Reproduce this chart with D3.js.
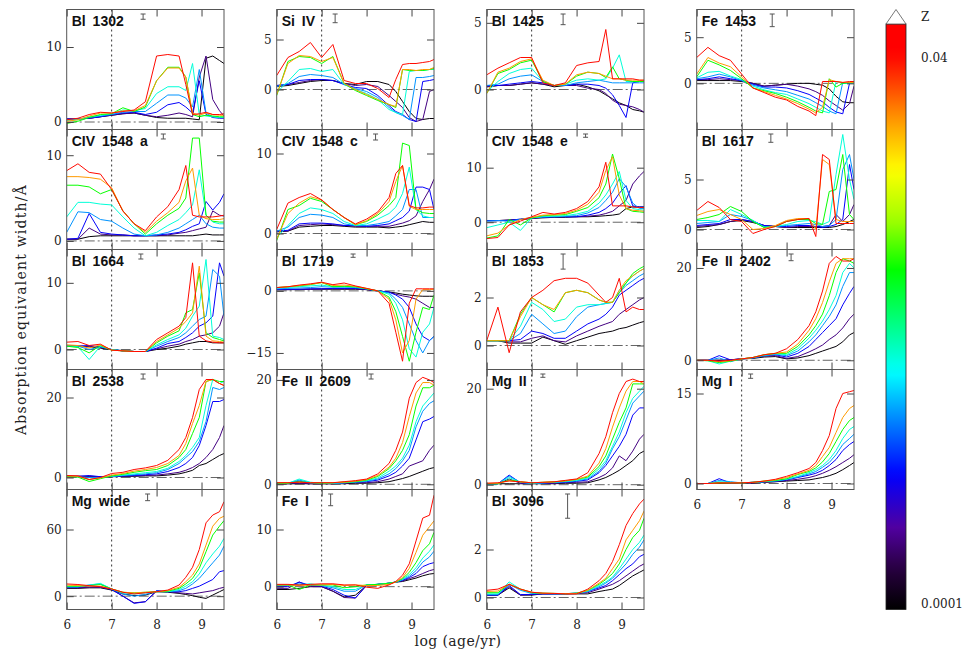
<!DOCTYPE html>
<html lang="en">
<head>
<meta charset="UTF-8">
<title>Absorption equivalent widths vs age</title>
<script src="https://d3js.org/d3.v7.min.js"></script>
<style>
  body { margin: 0; background: #fff; }
  svg { display: block; }
</style>
</head>
<body>
<svg width="972" height="664"></svg>
<script>
// ages (log yr) at which every track is sampled
const logAges = [6.0, 6.25, 6.5, 6.75, 7.0, 7.25, 7.5, 7.75, 8.0, 8.25, 8.5, 8.65, 8.8, 8.95, 9.1, 9.25, 9.4, 9.5];
// metallicity of each track, lowest first
const metallicities = [0.0001, 0.0002, 0.0004, 0.0008, 0.0015, 0.004, 0.02, 0.04];

const indexNames = ["Bl 1302", "Si IV", "Bl 1425", "Fe 1453",
    "CIV 1548 a", "CIV 1548 c", "CIV 1548 e", "Bl 1617",
    "Bl 1664", "Bl 1719", "Bl 1853", "Fe II 2402",
    "Bl 2538", "Fe II 2609", "Mg II", "Mg I",
    "Mg wide", "Fe I", "Bl 3096"];
const yRanges = [[-1, 15], [-4, 8], [-3, 6], [-5, 8],
    [-1, 13], [-2, 13], [-5, 17], [-2, 10],
    [-3, 15], [-19, 10], [-1, 4], [-2, 24],
    [-3, 27], [-1, 22], [-1, 24], [-1, 19],
    [-12, 96], [-4, 17], [-0.5, 4.5]];
const yTicks = [[0, 10], [0, 5], [0, 5], [0, 5],
    [0, 10], [0, 10], [0, 10], [0, 5],
    [0, 10], [-15, 0], [0, 2], [0, 20],
    [0, 20], [0, 20], [0, 20], [0, 15],
    [0, 60], [0, 10], [0, 2]];
const xTicks = [6, 7, 8, 9];
// typical measurement error of each index
const errAge = [7.70, 7.30, 7.70, 7.68, 8.15, 8.20, 8.20, 7.65, 7.65, 7.70, 7.70, 8.10, 7.70, 8.10, 7.25, 7.20, 7.80, 7.20, 7.80];
const errSize = [0.7, 0.87, 0.8, 1.37, 0.58, 0.75, 0.6, 0.83, 0.75, 0.8, 0.63, 1.45, 1.25, 0.96, 0.69, 0.72, 6.0, 2.05, 1.01];

// equivalent widths, one row per metallicity
const bl1302 = [
    [0.4,0.4,0.5,0.7,0.9,1.1,1.2,0.9,0.6,0.5,0.5,0.5,0.4,0.3,8.5,8.8,8.2,7.8],
    [0.4,0.4,0.5,0.7,0.9,1.1,1.2,0.9,0.7,0.9,1.2,1.0,0.7,6.0,8.8,3.0,1.5,0.8],
    [0.4,0.4,0.5,0.7,1.0,1.2,1.3,1.0,1.3,2.3,2.6,2.0,1.2,5.5,1.0,0.6,0.5,0.5],
    [0.3,0.4,0.6,0.8,1.0,1.3,1.4,1.4,2.5,3.6,3.6,3.2,2.0,7.0,1.2,0.7,0.6,0.6],
    [0.2,0.3,0.7,0.9,1.1,1.6,1.5,1.8,3.8,4.7,4.7,4.2,7.8,1.0,0.8,0.7,0.6,0.6],
    [-0.2,0.1,0.6,1.0,1.1,1.9,1.4,2.0,5.5,7.3,7.3,6.0,1.0,0.7,0.9,0.8,0.7,0.7],
    [0.1,0.3,0.8,1.2,1.2,1.5,1.5,2.2,5.5,7.2,7.2,6.0,1.2,0.9,1.2,1.0,0.9,0.9],
    [0.3,0.5,1.0,1.3,1.2,1.4,1.6,2.7,8.8,9.0,8.8,5.0,1.0,1.1,1.3,1.0,1.0,1.1]];
const siIV = [
    [0.3,0.4,0.6,0.8,0.9,0.9,0.6,0.5,0.8,0.8,0.5,-0.2,-1.2,-2.2,-2.9,-3.0,-2.9,-2.9],
    [0.4,0.5,0.7,0.9,1.0,0.9,0.6,0.4,0.5,0.3,-0.6,-1.2,-1.8,-2.8,-3.2,-3.0,-0.2,0.0],
    [0.4,0.5,0.9,1.0,1.0,0.9,0.5,0.2,0.1,-0.6,-1.6,-2.2,-2.5,-3.0,-3.2,0.8,0.9,1.0],
    [0.3,0.6,1.3,1.5,1.4,1.2,0.5,0.1,-0.2,-0.8,-1.8,-2.3,-2.6,-3.0,1.2,1.2,1.3,1.4],
    [-0.3,0.8,2.0,2.1,1.8,2.0,0.5,0.0,-0.4,-1.0,-2.0,-2.3,-2.5,1.8,1.9,1.9,2.0,2.0],
    [-0.6,2.8,3.3,3.2,2.6,3.3,0.6,-0.1,-0.6,-1.1,-1.5,-1.8,2.0,1.9,1.9,1.9,2.0,2.1],
    [-0.5,2.6,3.4,3.3,2.8,3.2,0.6,0.0,-0.5,-1.0,-1.5,-1.7,2.0,2.0,1.9,2.0,2.0,2.2],
    [1.4,3.2,3.8,4.7,3.2,4.5,0.9,0.6,0.6,0.1,-0.8,1.0,2.5,2.6,2.6,2.7,2.8,3.0]];
const bl1425 = [
    [0.2,0.3,0.3,0.4,0.5,0.4,0.2,0.3,0.4,0.2,-0.1,-0.4,-0.7,-1.0,-1.2,-1.5,-1.6,-1.7],
    [0.2,0.3,0.3,0.4,0.5,0.4,0.3,0.3,0.3,0.1,0.0,-0.3,-0.8,-1.1,-1.2,-1.3,-1.5,-1.7],
    [0.3,0.3,0.4,0.5,0.6,0.5,0.3,0.3,0.4,0.4,0.3,0.1,-0.4,-1.2,-2.1,0.5,0.6,0.6],
    [0.3,0.4,0.8,1.0,1.1,0.6,0.3,0.3,0.5,0.6,0.7,0.6,0.5,0.5,0.5,0.5,0.5,0.5],
    [-0.2,0.6,1.2,1.5,1.6,0.6,0.3,0.4,0.7,0.8,0.7,0.8,1.6,2.6,0.6,0.6,0.6,0.6],
    [-0.3,1.2,1.5,2.0,2.2,0.6,0.3,0.4,1.0,1.3,1.2,0.9,1.7,0.8,0.7,0.6,0.6,0.6],
    [-0.3,1.3,1.6,2.1,2.3,0.7,0.3,0.4,1.1,1.3,1.2,1.0,0.8,0.8,0.7,0.7,0.7,0.7],
    [1.1,1.6,2.0,2.4,2.4,0.5,0.3,0.5,1.8,2.0,2.1,4.5,0.8,0.8,0.8,0.8,0.7,0.7]];
const fe1453 = [
    [0.3,0.3,0.3,0.3,0.2,0.0,-0.3,-0.2,-0.1,0.0,0.0,-0.1,-0.2,-0.6,-1.4,-2.0,-2.1,-2.1],
    [0.4,0.4,0.5,0.4,0.3,0.0,-0.3,-0.2,-0.1,-0.3,-0.6,-0.9,-1.3,-1.9,-2.4,-2.9,-2.2,-0.3],
    [0.4,0.5,0.7,0.5,0.3,-0.1,-0.4,-0.4,-0.5,-0.8,-1.2,-1.6,-2.0,-2.6,-3.1,-3.3,0.0,0.0],
    [0.5,0.7,1.0,0.7,0.3,-0.2,-0.5,-0.7,-0.9,-1.3,-1.7,-2.1,-2.5,-3.0,-3.3,0.1,0.0,0.0],
    [0.6,1.2,1.3,0.8,0.4,-0.3,-0.7,-1.0,-1.2,-1.7,-2.2,-2.6,-3.0,-3.2,0.2,0.0,0.0,0.0],
    [0.7,2.5,2.0,1.4,0.5,-0.5,-0.8,-1.1,-1.5,-2.0,-2.6,-3.0,-3.2,0.5,-0.4,0.0,0.1,0.1],
    [1.0,2.8,2.2,1.8,0.7,-0.5,-0.9,-1.3,-1.7,-2.2,-2.8,-3.2,-2.6,0.4,0.2,0.1,0.1,0.1],
    [2.8,3.9,3.0,2.5,1.0,-0.5,-1.0,-1.5,-1.8,-2.5,-3.0,-3.5,0.2,0.2,0.2,0.1,0.2,0.2]];
const civ1548a = [
    [0.2,0.2,0.5,0.6,0.6,0.6,0.6,0.6,0.6,0.6,0.6,0.6,0.6,0.7,0.8,0.7,0.7,0.7],
    [0.2,0.2,1.5,0.8,0.7,0.7,0.6,0.6,0.6,0.7,0.9,1.0,1.2,1.4,1.6,3.5,3.0,2.9],
    [0.2,0.3,3.2,1.0,0.8,0.7,0.6,0.6,0.7,0.8,1.0,1.3,1.7,2.0,4.6,3.6,4.5,5.5],
    [1.0,3.4,3.3,2.5,2.3,1.5,0.8,0.6,0.7,1.0,1.5,2.0,2.5,3.0,2.0,1.6,1.5,1.5],
    [2.8,4.5,4.5,4.3,4.2,2.8,1.5,0.6,1.0,1.8,2.5,3.3,4.2,8.3,3.0,2.2,2.0,2.0],
    [6.5,6.5,6.3,5.5,6.0,3.5,2.0,0.8,2.0,3.0,3.8,5.0,12.0,12.0,3.0,2.3,2.2,2.2],
    [7.5,7.5,7.4,7.2,6.2,3.5,2.0,1.0,2.3,3.3,4.5,7.0,8.5,3.0,2.6,2.5,2.5,2.6],
    [8.2,9.0,8.0,7.8,6.0,3.5,2.0,1.2,2.8,4.0,6.0,8.8,3.0,2.8,2.8,2.8,2.9,3.0]];
const civ1548c = [
    [0.2,0.3,0.8,0.9,1.0,1.0,0.9,0.8,0.8,0.8,0.7,0.8,0.9,1.1,1.3,1.5,1.4,1.4],
    [0.3,0.3,1.0,1.1,1.2,1.1,1.0,0.9,0.9,0.9,0.9,1.1,1.3,1.6,2.2,4.0,5.5,6.8],
    [0.3,0.4,1.2,1.3,1.3,1.2,1.0,1.0,0.9,1.0,1.2,1.6,2.0,2.8,5.8,5.8,5.5,3.0],
    [0.3,0.8,2.0,2.4,2.3,2.0,1.2,1.0,1.0,1.2,1.5,2.2,3.0,5.5,5.5,2.0,2.0,2.0],
    [-0.5,1.0,2.5,3.2,3.0,2.5,1.5,1.0,1.2,1.8,2.5,3.3,5.0,8.3,3.0,2.2,2.0,2.0],
    [-0.9,3.0,3.5,4.4,4.0,3.0,2.0,1.1,1.5,2.3,3.5,4.5,11.3,11.0,3.0,2.6,2.5,2.5],
    [-0.7,2.5,3.8,4.6,4.2,3.0,2.0,1.1,1.6,2.5,4.0,6.5,8.5,3.4,3.0,3.0,3.0,3.0],
    [0.5,3.8,4.5,5.0,4.2,3.0,2.0,1.2,1.8,2.7,4.5,7.5,8.5,3.5,3.2,3.2,3.3,3.3]];
const civ1548e = [
    [0.3,0.3,0.4,0.5,0.7,0.8,0.9,0.9,1.0,1.0,1.1,1.2,1.3,1.5,2.5,2.8,2.8,2.8],
    [0.3,0.3,0.4,0.5,0.7,0.9,1.0,1.0,1.0,1.1,1.3,1.6,2.0,3.0,4.0,7.0,8.5,9.3],
    [0.3,0.3,0.3,0.6,0.8,0.9,1.0,1.0,1.0,1.3,1.8,2.5,3.5,5.3,6.7,3.0,2.8,2.8],
    [0.2,0.3,0.2,0.5,0.8,1.0,1.0,1.1,1.2,1.7,2.7,4.0,5.5,8.0,6.5,3.5,2.5,2.5],
    [-1.0,-0.5,0.0,-1.5,0.8,1.0,1.1,1.2,1.5,2.0,3.5,5.0,7.0,9.3,4.0,2.5,2.3,2.2],
    [-2.9,-2.5,0.5,-0.5,0.8,1.2,1.3,1.4,2.0,2.7,4.5,7.0,12.5,8.0,2.5,2.0,1.9,1.8],
    [-2.5,-2.0,-0.5,0.5,0.9,1.3,1.4,1.6,2.2,3.3,5.5,9.5,12.0,5.0,2.5,2.2,2.1,2.0],
    [-3.0,-2.8,-0.5,0.2,1.0,1.8,1.5,1.8,2.5,3.8,6.5,11.0,3.0,3.0,3.0,2.8,2.7,2.7]];
const bl1617 = [
    [0.2,0.3,0.5,0.8,0.9,0.7,0.4,0.3,0.2,0.2,0.2,0.2,0.2,0.2,0.3,0.5,0.8,1.0],
    [0.3,0.4,0.5,0.8,1.0,0.8,0.4,0.3,0.2,0.3,0.3,0.3,0.3,0.4,1.5,0.8,1.5,2.5],
    [0.4,0.5,0.6,1.0,1.0,0.8,0.4,0.3,0.3,0.4,0.4,0.3,0.2,0.3,0.5,1.0,6.5,4.0],
    [0.6,0.7,0.8,1.5,1.3,0.9,0.3,0.3,0.4,0.5,0.6,0.5,0.3,0.4,1.0,6.0,7.5,5.0],
    [0.9,0.9,0.8,2.0,1.5,0.9,0.2,0.3,0.5,0.8,0.9,0.8,0.5,0.8,5.5,9.5,5.0,3.0],
    [1.0,1.2,1.5,2.3,1.8,0.8,0.2,0.3,0.8,1.0,1.0,0.6,0.5,3.8,4.0,7.5,1.5,1.0],
    [1.4,1.8,2.0,1.5,1.0,0.0,0.1,0.4,0.9,1.1,1.1,0.0,7.0,6.5,1.0,0.8,0.8,0.8],
    [1.9,2.8,2.2,1.0,0.8,-0.4,0.0,0.3,0.8,1.0,1.1,-0.7,7.5,7.0,0.6,0.6,0.6,0.6]];
const bl1664 = [
    [0.5,0.5,0.4,0.2,0.0,-0.2,-0.3,-0.3,0.0,0.2,0.5,0.8,1.0,1.2,1.2,1.0,1.0,1.0],
    [0.5,0.5,0.5,0.3,0.0,-0.2,-0.3,-0.3,0.1,0.5,0.8,1.2,1.5,2.0,2.2,2.5,3.5,5.5],
    [0.5,0.5,0.6,0.4,0.0,-0.2,-0.3,-0.3,0.2,0.9,1.2,1.8,2.5,3.5,4.0,5.0,13.0,11.0],
    [0.5,0.5,0.0,0.4,0.0,-0.2,-0.3,-0.3,0.5,1.2,1.8,2.5,3.5,4.5,5.0,12.0,11.0,5.0],
    [0.5,0.4,-1.5,0.5,0.0,-0.2,-0.3,-0.3,0.7,1.5,2.2,3.2,5.0,6.5,13.5,2.0,1.8,1.5],
    [0.5,0.3,-0.5,0.6,-0.1,-0.2,-0.3,-0.3,1.0,2.0,2.8,5.5,6.0,11.5,2.5,1.8,1.5,1.3],
    [0.7,0.6,0.2,0.7,-0.1,-0.2,-0.3,-0.3,1.2,2.2,3.2,4.2,5.5,12.5,2.0,1.3,1.2,1.1],
    [1.1,1.2,0.6,0.8,-0.1,-0.2,-0.3,-0.3,1.5,2.5,3.5,4.8,13.0,2.0,1.3,1.1,1.0,1.0]];
const bl1719 = [
    [0.3,0.3,0.3,0.4,0.4,0.4,0.4,0.4,0.3,0.0,-0.3,-0.5,-0.8,-1.0,-1.2,-1.3,-1.3,-1.3],
    [0.3,0.3,0.4,0.4,0.5,0.5,0.5,0.5,0.3,0.0,-0.3,-0.8,-1.2,-1.5,-2.0,-3.0,-4.0,-4.0],
    [0.3,0.4,0.4,0.5,0.5,0.6,0.6,0.6,0.4,0.0,-0.3,-1.0,-2.0,-4.0,-8.0,-11.0,-12.0,-11.0],
    [0.5,0.6,0.7,0.8,1.0,0.9,0.9,0.8,0.5,0.0,-0.5,-2.0,-4.0,-8.0,-12.0,-15.0,-12.0,-11.0],
    [0.7,0.8,1.0,1.2,1.4,1.0,1.0,0.9,0.5,0.0,-0.8,-3.0,-7.0,-14.0,-16.0,-10.0,-8.0,-4.0],
    [0.8,1.0,1.2,1.5,2.0,1.0,1.1,1.0,0.5,0.0,-1.5,-5.0,-11.0,-17.0,-10.0,-4.0,-4.5,-1.0],
    [0.8,1.0,1.3,1.6,2.0,1.3,1.4,1.1,0.6,0.0,-2.0,-7.0,-15.0,-12.0,-2.0,0.3,0.3,0.3],
    [0.8,1.0,1.4,1.7,2.1,1.5,1.9,1.2,0.6,0.0,-3.0,-10.0,-17.0,-3.0,0.5,0.5,0.5,0.5]];
const bl1853 = [
    [0.2,0.2,0.1,0.1,0.1,0.35,0.2,0.05,0.2,0.35,0.5,0.55,0.6,0.7,0.75,0.85,0.95,1.0],
    [0.2,0.2,0.15,0.15,0.3,0.4,0.2,0.15,0.4,0.6,0.8,0.9,1.0,1.3,1.5,1.7,1.9,2.0],
    [0.2,0.2,0.2,0.25,0.6,0.5,0.3,0.3,0.6,0.9,1.1,1.3,1.6,2.1,2.3,2.5,2.7,2.8],
    [0.2,0.2,0.2,0.5,1.3,0.9,0.5,0.6,1.2,1.6,1.7,1.75,1.8,2.2,2.5,2.7,2.9,3.0],
    [0.2,0.2,0.2,0.8,1.8,1.5,1.0,1.1,1.6,1.7,1.7,1.75,1.8,2.3,2.6,2.9,3.1,3.2],
    [0.2,0.2,0.2,1.3,2.0,1.7,1.4,2.2,2.3,2.2,1.9,1.8,1.8,2.2,2.6,3.0,3.2,3.3],
    [0.2,0.2,0.2,1.2,2.0,1.7,1.5,2.2,2.3,2.2,1.9,1.8,1.8,2.3,2.7,2.9,3.1,3.2],
    [0.2,1.6,-0.3,1.4,2.0,2.3,2.7,2.8,2.8,2.6,2.1,1.8,2.0,2.8,1.4,1.6,1.5,1.5]];
const feII2402 = [
    [0.0,0.0,0.0,0.1,0.3,0.4,0.7,0.8,0.3,0.5,1.0,1.5,2.0,2.5,3.0,4.0,5.5,6.0],
    [0.0,0.0,0.0,0.1,0.3,0.5,0.9,1.0,0.4,0.8,1.8,2.5,3.3,4.5,5.5,7.0,9.0,10.0],
    [0.0,0.0,1.0,0.1,0.3,0.5,1.0,1.2,0.7,1.5,3.0,4.5,6.0,7.5,9.0,12.0,14.5,16.0],
    [0.0,0.0,0.5,-0.3,0.3,0.5,1.0,1.3,1.0,2.0,4.0,5.5,7.5,9.5,12.0,16.0,19.0,19.0],
    [0.0,-0.1,-0.8,-0.2,0.3,0.6,1.1,1.4,1.2,2.5,4.8,6.5,8.5,11.0,14.0,19.0,21.0,20.0],
    [0.0,-0.1,-0.5,-0.2,0.3,0.6,1.2,1.5,1.5,3.0,5.5,7.5,10.0,14.0,19.0,22.0,21.5,21.0],
    [0.0,0.0,-0.3,-0.1,0.3,0.6,1.2,1.5,1.8,3.5,6.5,9.0,12.5,17.0,21.0,22.0,22.0,22.0],
    [0.0,0.0,-0.2,0.0,0.3,0.6,1.2,1.5,2.5,4.5,7.5,10.5,15.0,21.0,22.5,21.5,21.5,22.0]];
const bl2538 = [
    [0.3,0.3,0.2,0.1,0.2,0.3,0.3,0.4,0.4,0.6,0.9,1.3,1.8,3.0,3.5,4.5,5.5,6.0],
    [0.3,0.3,0.3,0.2,0.2,0.3,0.4,0.5,0.6,0.9,1.3,1.8,2.5,3.5,5.0,7.0,10.0,13.0],
    [0.3,0.3,0.5,0.2,0.3,0.4,0.5,0.7,0.9,1.5,2.5,3.5,5.0,8.0,13.0,19.0,19.0,19.5],
    [0.3,0.2,0.0,0.0,0.3,0.5,0.7,0.9,1.2,2.0,3.5,5.0,6.5,9.0,14.0,22.5,22.0,22.5],
    [0.3,0.2,-0.5,0.0,0.3,0.6,0.9,1.2,1.5,2.3,4.0,5.5,7.5,10.0,18.0,24.5,23.5,24.0],
    [0.3,0.1,-1.0,-0.3,0.4,0.8,1.3,1.7,2.0,3.0,5.0,7.0,11.0,15.0,24.0,24.5,24.0,24.0],
    [0.4,0.3,-0.5,-0.1,0.6,1.0,1.6,2.0,2.5,3.5,5.5,8.5,13.5,18.0,24.0,24.5,23.5,23.0],
    [0.5,0.4,-0.5,0.0,1.0,1.3,2.0,2.4,3.0,4.3,7.0,10.0,15.0,22.0,24.5,24.5,23.5,23.0]];
const feII2609 = [
    [0.1,0.1,0.1,0.1,0.1,0.1,0.1,0.2,0.2,0.3,0.5,0.8,1.1,1.5,2.0,2.5,3.0,3.2],
    [0.1,0.1,0.2,0.1,0.1,0.1,0.2,0.3,0.3,0.5,1.0,1.5,2.0,3.5,4.0,4.5,6.5,7.5],
    [0.2,0.2,0.6,0.2,0.2,0.2,0.3,0.4,0.5,0.8,1.6,2.3,3.5,5.0,8.5,12.0,12.5,13.0],
    [0.2,0.2,0.8,0.3,0.2,0.2,0.3,0.4,0.6,1.0,2.0,3.0,4.5,6.5,11.0,14.0,15.5,16.0],
    [0.2,0.2,1.0,0.4,0.2,0.2,0.3,0.5,0.7,1.2,2.5,3.5,5.0,7.5,12.0,15.0,16.5,17.5],
    [0.2,0.2,0.5,0.3,0.2,0.3,0.4,0.5,0.8,1.5,3.0,4.5,6.5,9.5,15.0,18.5,18.5,19.0],
    [0.3,0.3,0.4,0.3,0.3,0.3,0.4,0.6,0.9,1.7,3.3,5.0,8.0,13.0,17.5,19.5,19.5,19.0],
    [0.3,0.3,0.4,0.3,0.3,0.3,0.5,0.7,1.0,2.0,4.0,6.5,10.0,16.5,19.5,20.5,20.0,19.5]];
const mgII = [
    [0.2,0.2,0.2,0.2,0.2,0.2,0.2,0.3,0.3,0.4,1.0,1.5,2.2,3.0,4.0,5.0,6.5,7.0],
    [0.2,0.2,1.2,0.3,0.2,0.3,0.3,0.4,0.5,0.6,1.5,2.2,3.5,6.0,5.0,7.0,9.5,10.5],
    [0.2,0.2,2.0,0.4,0.3,0.3,0.4,0.5,0.7,1.0,2.5,4.0,6.0,8.0,10.5,14.5,16.0,16.0],
    [0.2,0.2,1.8,0.5,0.3,0.4,0.5,0.6,0.8,1.2,2.8,4.5,7.5,10.0,13.5,17.0,18.5,19.5],
    [0.2,0.2,1.5,0.5,0.3,0.4,0.5,0.7,0.9,1.4,3.3,5.0,8.0,11.0,15.0,18.0,19.5,20.5],
    [0.2,0.2,1.0,0.6,0.4,0.5,0.6,0.8,1.1,1.6,3.8,6.0,9.5,13.0,16.0,21.0,21.0,21.0],
    [0.3,0.3,0.8,0.6,0.4,0.5,0.6,0.8,1.1,1.8,4.5,7.5,12.0,16.0,19.5,21.5,21.5,21.0],
    [0.3,0.4,0.8,0.6,0.4,0.5,0.6,0.9,1.2,2.5,6.5,10.0,15.0,19.0,21.5,22.0,21.5,21.5]];
const mgI = [
    [0.0,0.0,0.0,0.0,0.0,0.1,0.2,0.3,0.4,0.5,0.6,0.8,1.0,1.3,1.7,2.3,3.0,3.5],
    [0.0,0.0,0.2,0.0,0.1,0.1,0.2,0.3,0.5,0.7,1.0,1.3,1.7,2.2,2.8,3.5,4.2,4.8],
    [0.0,0.0,0.8,0.1,0.1,0.2,0.3,0.4,0.6,1.0,1.4,1.7,2.2,3.0,4.0,5.5,6.5,7.0],
    [0.0,0.0,0.5,0.3,0.1,0.2,0.3,0.4,0.7,1.1,1.6,2.0,2.7,3.5,4.8,6.5,7.5,8.2],
    [0.0,0.0,0.3,0.2,0.1,0.2,0.3,0.5,0.7,1.2,1.8,2.3,3.0,4.0,5.5,7.5,9.0,9.5],
    [0.0,0.0,0.1,0.1,0.1,0.2,0.4,0.5,0.8,1.5,2.0,2.6,3.6,5.0,7.0,9.0,10.5,11.0],
    [0.0,0.0,0.1,0.1,0.1,0.2,0.4,0.6,1.0,1.6,2.2,3.0,4.5,6.0,8.5,11.0,12.5,13.0],
    [0.0,0.0,0.1,0.1,0.1,0.2,0.4,0.7,1.2,1.8,2.5,3.5,5.5,8.0,12.5,15.0,15.3,15.5]];
const mgWide = [
    [7.0,7.0,7.5,7.5,5.5,2.0,0.5,1.0,4.0,3.5,2.5,1.5,0.5,-1.0,-2.0,1.0,4.0,6.0],
    [7.5,7.5,8.0,8.0,6.0,0.0,-6.0,-5.0,4.5,4.0,3.0,2.5,2.0,3.0,4.0,5.0,7.0,8.0],
    [8.0,8.0,9.0,8.5,6.0,0.0,-6.5,-5.0,5.0,4.0,4.0,5.0,7.0,9.0,12.0,15.0,22.0,23.0],
    [8.5,8.5,10.0,11.0,6.5,2.0,0.0,1.5,4.5,4.0,5.0,7.0,11.0,16.0,23.0,30.0,37.0,45.0],
    [8.5,8.5,10.0,11.5,6.5,3.0,2.0,3.0,4.0,4.0,6.0,9.0,13.0,20.0,30.0,38.0,45.0,52.0],
    [9.0,9.0,9.5,10.5,6.5,3.5,3.0,3.5,4.0,4.5,7.0,11.0,16.0,25.0,40.0,55.0,63.0,68.0],
    [10.0,9.5,9.0,9.0,6.5,3.5,3.0,3.5,4.0,5.0,8.0,13.0,19.0,29.0,46.0,63.0,70.0,72.0],
    [11.0,10.5,9.5,8.5,6.5,3.5,2.0,3.0,4.0,5.5,10.0,17.0,26.0,42.0,66.0,73.0,76.0,85.0]];
const feI = [
    [-0.5,-0.5,-0.3,0.0,0.0,-0.8,-1.8,-1.5,0.2,0.4,0.6,0.8,0.9,1.2,1.5,1.9,2.2,2.3],
    [-0.3,-0.3,0.8,0.0,0.0,-0.8,-1.9,-2.0,0.2,0.4,0.6,0.8,1.0,1.4,1.8,2.3,2.8,3.0],
    [0.0,0.0,0.8,0.2,0.1,-0.5,-1.5,-2.0,0.3,0.4,0.6,0.8,1.1,1.6,2.3,3.5,4.0,4.2],
    [0.2,0.2,0.5,0.3,0.2,-0.2,-0.8,-0.8,0.3,0.4,0.6,0.8,1.2,1.8,2.8,4.3,5.2,6.2],
    [0.3,0.3,0.3,0.5,0.2,0.0,-0.5,-0.5,0.3,0.4,0.6,0.8,1.3,2.1,3.3,5.0,6.2,7.3],
    [0.3,0.3,-0.5,0.3,0.3,0.3,-0.2,0.0,0.3,0.4,0.6,0.8,1.4,2.5,4.2,6.3,7.5,9.5],
    [0.3,0.3,0.2,0.3,0.3,0.4,0.2,0.3,0.2,0.2,0.4,0.8,1.6,3.2,6.0,9.0,10.5,11.5],
    [0.4,0.4,0.3,0.4,0.5,0.5,0.3,0.3,-0.1,-0.3,0.3,0.9,2.0,4.0,8.0,12.0,12.5,16.0]];
const bl3096 = [
    [0.1,0.1,0.4,0.1,0.1,0.15,0.15,0.15,0.15,0.15,0.25,0.3,0.35,0.5,0.7,0.9,1.05,1.15],
    [0.1,0.1,0.45,0.1,0.12,0.15,0.15,0.15,0.17,0.2,0.35,0.45,0.55,0.7,0.9,1.1,1.3,1.4],
    [0.1,0.1,0.5,0.12,0.13,0.15,0.15,0.16,0.18,0.25,0.4,0.5,0.7,0.95,1.2,1.4,1.7,1.8],
    [0.12,0.12,0.55,0.3,0.17,0.16,0.16,0.16,0.18,0.25,0.45,0.6,0.8,1.1,1.4,1.8,2.1,2.4],
    [0.15,0.15,0.65,0.35,0.2,0.17,0.16,0.16,0.18,0.27,0.5,0.65,0.85,1.2,1.6,2.0,2.3,2.6],
    [0.2,0.2,0.55,0.35,0.2,0.18,0.17,0.16,0.18,0.3,0.55,0.75,1.0,1.4,2.0,2.5,2.8,3.3],
    [0.25,0.27,0.55,0.35,0.22,0.18,0.17,0.16,0.17,0.3,0.6,0.8,1.2,1.6,2.4,2.8,3.2,3.6],
    [0.3,0.35,0.55,0.35,0.22,0.18,0.17,0.15,0.15,0.35,0.7,1.0,1.5,2.2,3.0,3.5,3.9,4.1]];

const tracksByIndex = [bl1302, siIV, bl1425, fe1453,
    civ1548a, civ1548c, civ1548e, bl1617,
    bl1664, bl1719, bl1853, feII2402,
    bl2538, feII2609, mgII, mgI,
    mgWide, feI, bl3096];

// colour table of the Z bar, position 0 = bottom, 1 = top
const cmapPos = [0, 0.07, 0.14, 0.23, 0.32, 0.405, 0.49, 0.58, 0.665, 0.75, 0.83, 0.9, 0.95, 1];
const cmapCol = ["#000000", "#280040", "#5000a0", "#0000ff", "#0080ff", "#00ffff", "#00ff80",
    "#00ff00", "#a0ff00", "#ffff00", "#ffa000", "#ff4000", "#ff0000", "#ff0000"];

const svg = d3.select("svg");
const serif = "'DejaVu Serif', serif";

const left0 = 66.7, top0 = 9.5, colStep = 210, panelW = 157.3, panelH = 120;
const nCols = 4;

const cmap = d3.scaleLinear().domain(cmapPos).range(cmapCol).interpolate(d3.interpolateRgb);

// colour bar geometry
const barX = 886, barW = 20, barTop = 24, barBottom = 609.5;
const zScale = d3.scaleLog().domain([0.0001, 0.04]).range([604, 58]);
const zColor = z => cmap((barBottom - zScale(z)) / (barBottom - barTop));

const x = d3.scaleLinear().domain([6, 9.5]).range([0, panelW]);

const defs = svg.append("defs");

tracksByIndex.forEach((tracks, i) => {
    const row = Math.floor(i / nCols), col = i % nCols;
    const px = left0 + col * colStep, py = top0 + row * panelH;
    const y = d3.scaleLinear().domain(yRanges[i]).range([panelH, 0]);
    const g = svg.append("g").attr("transform", `translate(${px},${py})`);

    defs.append("clipPath").attr("id", "clip" + i)
        .append("rect").attr("width", panelW).attr("height", panelH);

    // zero level and log age = 7 guide
    g.append("line")
        .attr("x1", 0).attr("x2", panelW)
        .attr("y1", y(0)).attr("y2", y(0))
        .attr("stroke", "#666").attr("stroke-width", 1)
        .attr("stroke-dasharray", "10,3,2,3");
    g.append("line")
        .attr("x1", x(7)).attr("x2", x(7))
        .attr("y1", 0).attr("y2", panelH)
        .attr("stroke", "#333").attr("stroke-width", 1)
        .attr("stroke-dasharray", "2,3");

    const line = d3.line()
        .x((d, j) => x(logAges[j]))
        .y(d => y(d));

    g.append("g").attr("clip-path", `url(#clip${i})`)
        .selectAll("path")
        .data(tracks)
        .join("path")
        .attr("d", line)
        .attr("fill", "none")
        .attr("stroke", (d, k) => zColor(metallicities[k]))
        .attr("stroke-width", 1)
        .attr("stroke-linejoin", "round");

    // axes with inward ticks
    const showX = i + nCols >= tracksByIndex.length;
    const axL = g.append("g").call(d3.axisLeft(y).tickValues(yTicks[i])
        .tickSizeInner(-7).tickSizeOuter(0).tickPadding(5).tickFormat(d3.format("")));
    const axR = g.append("g").attr("transform", `translate(${panelW},0)`)
        .call(d3.axisRight(y).tickValues(yTicks[i]).tickSizeInner(-7).tickSizeOuter(0).tickFormat(""));
    const axT = g.append("g")
        .call(d3.axisTop(x).tickValues(xTicks).tickSizeInner(-7).tickSizeOuter(0).tickFormat(""));
    const axB = g.append("g").attr("transform", `translate(0,${panelH})`)
        .call(d3.axisBottom(x).tickValues(xTicks).tickSizeInner(-7).tickSizeOuter(0)
            .tickPadding(11).tickFormat(showX ? d3.format("") : ""));
    [axL, axR, axT, axB].forEach(a => {
        a.select(".domain").remove();
        a.selectAll(".tick line").attr("stroke", "#444");
        a.selectAll("text").attr("font-family", serif).attr("font-size", 12).attr("fill", "#222");
    });

    g.append("rect")
        .attr("width", panelW).attr("height", panelH)
        .attr("fill", "none").attr("stroke", "#555").attr("stroke-width", 1);

    g.append("text")
        .attr("x", 5).attr("y", 16)
        .attr("font-family", "'Liberation Sans', Arial, sans-serif")
        .attr("font-weight", "bold").attr("font-size", 14)
        .attr("word-spacing", 3)
        .attr("fill", "#111")
        .text(indexNames[i]);

    // error bar
    const eLen = y(0) - y(errSize[i]);
    const ex = x(errAge[i]);
    const eg = g.append("g").attr("stroke", "#555").attr("stroke-width", 1);
    eg.append("line").attr("x1", ex).attr("x2", ex).attr("y1", 4.5).attr("y2", 4.5 + eLen);
    eg.append("line").attr("x1", ex - 2.5).attr("x2", ex + 2.5).attr("y1", 4.5).attr("y2", 4.5);
    eg.append("line").attr("x1", ex - 2.5).attr("x2", ex + 2.5).attr("y1", 4.5 + eLen).attr("y2", 4.5 + eLen);
});

// axis titles
svg.append("text")
    .attr("transform", "translate(26,309.5) rotate(-90)")
    .attr("text-anchor", "middle")
    .attr("font-family", serif).attr("font-size", 14).attr("fill", "#222")
    .attr("letter-spacing", 1.2)
    .text("Absorption equivalent width/Å");
svg.append("text")
    .attr("x", 458).attr("y", 646)
    .attr("text-anchor", "middle")
    .attr("font-family", serif).attr("font-size", 14).attr("fill", "#222")
    .attr("letter-spacing", 0.4)
    .text("log (age/yr)");

// metallicity colour bar
const grad = defs.append("linearGradient").attr("id", "zgrad")
    .attr("x1", 0).attr("y1", 1).attr("x2", 0).attr("y2", 0);
d3.range(0, 1.0001, 0.02).forEach(t => {
    grad.append("stop").attr("offset", t).attr("stop-color", cmap(t));
});
svg.append("rect")
    .attr("x", barX).attr("y", barTop)
    .attr("width", barW).attr("height", barBottom - barTop)
    .attr("fill", "url(#zgrad)").attr("stroke", "#222").attr("stroke-width", 0.8);
svg.append("path")
    .attr("d", `M${barX},${barTop}L${barX + barW / 2},${top0}L${barX + barW},${barTop}Z`)
    .attr("fill", "#fff").attr("stroke", "#555").attr("stroke-width", 0.8);

const zLabels = [0.04, 0.0001];
svg.selectAll(".zlab")
    .data(zLabels)
    .join("text")
    .attr("x", 921).attr("y", d => zScale(d))
    .attr("dy", "0.35em")
    .attr("font-family", serif).attr("font-size", 12).attr("fill", "#222")
    .text(d => d);
svg.append("text")
    .attr("x", 921).attr("y", 17).attr("dy", "0.35em")
    .attr("font-family", serif).attr("font-size", 12).attr("fill", "#222")
    .text("Z");
</script>
</body>
</html>
